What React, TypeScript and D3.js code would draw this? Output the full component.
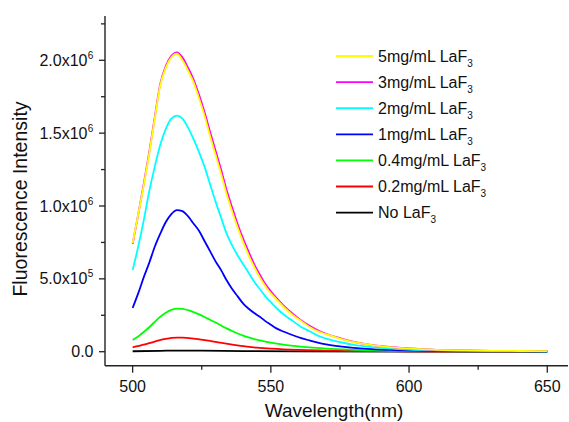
import React from "react";
import * as d3 from "d3";

// ---- data (intensity in units of 1e6) ----
const wlMain = [500,502,504,506,508,510,512,514,516,518,520,522,524,526,528,530,532,534,536,538,540,542,544,546,548,550,552,555,558,561,564,567,570,575,580,585,590,595,600,610,620,630,640,650];
const yellow5 = [0.745,0.94,1.14,1.36,1.60,1.83,1.95,2.02,2.045,2.00,1.93,1.85,1.74,1.62,1.48,1.35,1.22,1.08,0.96,0.85,0.75,0.66,0.58,0.51,0.45,0.40,0.36,0.30,0.25,0.21,0.17,0.14,0.12,0.09,0.065,0.05,0.037,0.028,0.021,0.013,0.009,0.006,0.005,0.004];
const magenta3 = [0.74,0.94,1.15,1.37,1.61,1.84,1.96,2.03,2.055,2.02,1.95,1.87,1.765,1.645,1.51,1.38,1.25,1.11,0.99,0.875,0.775,0.685,0.60,0.53,0.465,0.415,0.37,0.31,0.26,0.215,0.178,0.147,0.123,0.093,0.068,0.051,0.038,0.029,0.022,0.013,0.009,0.006,0.005,0.004];
const cyan2 = [0.56,0.72,0.90,1.10,1.27,1.42,1.53,1.60,1.62,1.60,1.54,1.46,1.37,1.27,1.15,1.03,0.92,0.81,0.73,0.66,0.60,0.54,0.48,0.43,0.38,0.34,0.30,0.25,0.21,0.17,0.14,0.11,0.09,0.065,0.047,0.035,0.026,0.02,0.015,0.01,0.007,0.005,0.004,0.003];
const blue1 = [0.30,0.40,0.51,0.61,0.72,0.81,0.89,0.945,0.972,0.965,0.93,0.88,0.83,0.76,0.69,0.62,0.56,0.49,0.43,0.38,0.33,0.295,0.265,0.24,0.21,0.185,0.16,0.135,0.113,0.093,0.077,0.062,0.05,0.036,0.026,0.019,0.014,0.011,0.008,0.005,0.003,0.002,0.002,0.001];
const wlGreen = [500,502,504,506,508,510,512,514,516,518,520,522,524,526,528,530,532,534,536,538,540,542,544,546,548,550,555,560,565,570,580,590,600,620,650];
const green04 = [0.08,0.105,0.135,0.168,0.205,0.24,0.268,0.287,0.296,0.294,0.285,0.272,0.256,0.238,0.219,0.20,0.18,0.16,0.142,0.125,0.11,0.098,0.087,0.078,0.07,0.062,0.047,0.036,0.028,0.021,0.013,0.008,0.005,0.003,0.001];
const wlRed = [500,504,508,512,516,518,522,526,530,535,540,545,550,560,570,580,600,650];
const red02 = [0.03,0.048,0.07,0.088,0.096,0.096,0.09,0.08,0.068,0.052,0.038,0.028,0.021,0.012,0.008,0.005,0.003,0.001];
const wlBlack = [500,510,517,525,540,560,600,650];
const noLaF3 = [0.003,0.006,0.008,0.007,0.004,0.002,0.001,0.0005];

const legendLabels = ["5mg/mL LaF", "3mg/mL LaF", "2mg/mL LaF", "1mg/mL LaF", "0.4mg/mL LaF", "0.2mg/mL LaF", "No LaF"];
const legendColors = ["#FFFF00", "#FF00FF", "#00FFFF", "#0000FF", "#00FF00", "#FF0000", "#000000"];

const xMajor = [500, 550, 600, 650];
const xMinor = [525, 575, 625];
const yMajor = [0, 0.5, 1.0, 1.5, 2.0];
const yMantissa = ["0.0", "5.0x10", "1.0x10", "1.5x10", "2.0x10"];
const yExp = ["", "5", "6", "6", "6"];
const yMinor = [0.25, 0.75, 1.25, 1.75, 2.25];

const W = 569, H = 422;
const FONT = "Liberation Sans, Arial, sans-serif";

export default function App() {
  const x = d3.scaleLinear().domain([490, 657.5]).range([105, 568]);
  const y = d3.scaleLinear().domain([-0.096, 2.304]).range([365.7, 16]);
  const line = d3
    .line<[number, number]>()
    .x((d) => x(d[0]))
    .y((d) => y(d[1]))
    .curve(d3.curveMonotoneX);

  const series = [
    { wl: wlBlack, v: noLaF3, c: legendColors[6] },
    { wl: wlRed, v: red02, c: legendColors[5] },
    { wl: wlGreen, v: green04, c: legendColors[4] },
    { wl: wlMain, v: blue1, c: legendColors[3] },
    { wl: wlMain, v: cyan2, c: legendColors[2] },
    { wl: wlMain, v: magenta3, c: legendColors[1] },
    { wl: wlMain, v: yellow5, c: legendColors[0] },
  ];

  const [x0, x1] = x.range();
  const [yb, yt] = y.range();

  return (
    <svg width={W} height={H} style={{ position: "absolute", left: 0, top: 0 }} fontFamily={FONT}>
      <rect width={W} height={H} fill="#fff" />
      {series.map((s, i) => (
        <path
          key={i}
          d={line(s.wl.map((w, j) => [w, s.v[j]] as [number, number])) || ""}
          fill="none"
          stroke={s.c}
          strokeWidth={1.8}
          strokeLinejoin="round"
        />
      ))}
      {/* axes */}
      <line x1={x0} x2={x0} y1={yb} y2={yt} stroke="#222" strokeWidth={1.4} />
      <line x1={x0} x2={x1} y1={yb} y2={yb} stroke="#222" strokeWidth={1.4} />
      {xMajor.map((t) => (
        <g key={"xm" + t}>
          <line x1={x(t)} x2={x(t)} y1={yb} y2={yb + 7} stroke="#222" strokeWidth={1.3} />
          <text x={x(t)} y={391.5} textAnchor="middle" fontSize={16} fill="#111">
            {t}
          </text>
        </g>
      ))}
      {xMinor.map((t) => (
        <line key={"xn" + t} x1={x(t)} x2={x(t)} y1={yb} y2={yb + 4} stroke="#222" strokeWidth={1.3} />
      ))}
      {yMajor.map((t, i) => (
        <g key={"ym" + t}>
          <line x1={x0 - 6} x2={x0} y1={y(t)} y2={y(t)} stroke="#222" strokeWidth={1.3} />
          <text x={yExp[i] ? 87.5 : 93.5} y={y(t) + 5.5} textAnchor="end" fontSize={16} fill="#111">
            {yMantissa[i]}
          </text>
          {yExp[i] && (
            <text x={87.8} y={y(t) - 1.5} fontSize={10} fill="#111">
              {yExp[i]}
            </text>
          )}
        </g>
      ))}
      {yMinor.map((t) => (
        <line key={"yn" + t} x1={x0 - 4} x2={x0} y1={y(t)} y2={y(t)} stroke="#222" strokeWidth={1.3} />
      ))}
      {/* axis titles */}
      <text x={334} y={416.5} textAnchor="middle" fontSize={19} fill="#111">
        Wavelength(nm)
      </text>
      <text transform="translate(27,199) rotate(-90)" textAnchor="middle" fontSize={19.5} fill="#111">
        Fluorescence Intensity
      </text>
      {/* legend */}
      {legendLabels.map((lab, i) => {
        const ly = 56 + i * 26.1;
        return (
          <g key={"lg" + i}>
            <line x1={336} x2={373} y1={ly} y2={ly} stroke={legendColors[i]} strokeWidth={1.8} />
            <text x={378} y={ly + 5.6} fontSize={16} fill="#111">
              {lab}
              <tspan fontSize={10} dy={5}>3</tspan>
            </text>
          </g>
        );
      })}
    </svg>
  );
}
